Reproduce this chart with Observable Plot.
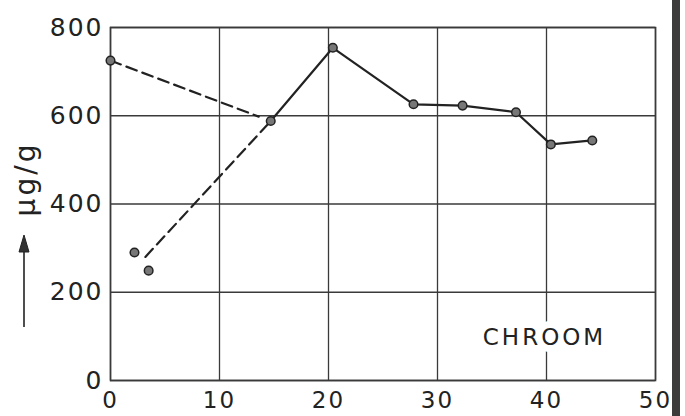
<!DOCTYPE html>
<html>
<head>
<meta charset="utf-8">
<script src="https://cdn.jsdelivr.net/npm/d3@7"></script>
<script src="https://cdn.jsdelivr.net/npm/@observablehq/plot@0.6"></script>
<style>
  html, body { margin: 0; padding: 0; background: #fff; }
  #chart { width: 685px; height: 416px; overflow: hidden; }
</style>
</head>
<body>
<div id="chart"></div>
<script>
// Solid series (connected measurements)
const solidX = [14.7, 20.4, 27.8, 32.3, 37.2, 40.4, 44.2];
const solidY = [588, 754, 626, 623, 608, 535, 544];

// Isolated points
const isoX = [0, 2.2, 3.5];
const isoY = [725, 290, 249];

// Dashed connector lines
const dashAX = [0, 13.6];
const dashAY = [725, 598];
const dashBX = [3.2, 14.7];
const dashBY = [280, 588];

const xTicks = [0, 10, 20, 30, 40, 50];
const yTicks = [0, 200, 400, 600, 800];
const yLabel = "μg/g";
const seriesLabel = "CHROOM";

const solid = solidX.map((x, i) => ({x, y: solidY[i]}));
const iso = isoX.map((x, i) => ({x, y: isoY[i]}));
const dashA = dashAX.map((x, i) => ({x, y: dashAY[i]}));
const dashB = dashBX.map((x, i) => ({x, y: dashBY[i]}));

const ink = "#222";
const gridInk = "#3a3a3a";

// decorative y-label arrow and scan border (not data)
function decorations(index, scales, values, dimensions) {
  const g = d3.create("svg:g");
  const ax = dimensions.marginLeft - 86;
  g.append("line")
    .attr("x1", ax).attr("x2", ax)
    .attr("y1", 327).attr("y2", 248)
    .attr("stroke", ink).attr("stroke-width", 1.6);
  g.append("path")
    .attr("d", `M${ax},235 L${ax - 5},252 L${ax + 5},252 Z`)
    .attr("fill", "#333").attr("stroke", ink).attr("stroke-width", 1);
  g.append("rect")
    .attr("x", 672).attr("y", 0).attr("width", 8).attr("height", dimensions.height)
    .attr("fill", "#3c3c3c");
  return g.node();
}

const chart = Plot.plot({
  width: 685,
  height: 416,
  marginLeft: 110,
  marginTop: 27,
  marginRight: 30,
  marginBottom: 36,
  style: {fontFamily: "DejaVu Sans, sans-serif", color: ink, background: "#fff", overflow: "visible"},
  x: {domain: [0, 50]},
  y: {domain: [0, 800]},
  marks: [
    Plot.gridX(xTicks, {stroke: gridInk, strokeOpacity: 1, strokeWidth: 1.3}),
    Plot.gridY(yTicks, {stroke: gridInk, strokeOpacity: 1, strokeWidth: 1.3}),
    Plot.frame({stroke: gridInk, strokeWidth: 1.6}),
    Plot.text([seriesLabel], {frameAnchor: "bottom-right", dx: -111, dy: -43, lineAnchor: "middle", textAnchor: "middle", fontSize: 23, fill: ink, stroke: "white", strokeWidth: 14}),
    Plot.axisX({ticks: xTicks, tickSize: 0, tickPadding: 11, fontSize: 23, label: null}),
    Plot.axisY({ticks: yTicks, tickSize: 0, tickPadding: 7, fontSize: 25, label: null}),
    Plot.line(dashA, {x: "x", y: "y", stroke: ink, strokeWidth: 2.2, strokeDasharray: "11,6"}),
    Plot.line(dashB, {x: "x", y: "y", stroke: ink, strokeWidth: 2.2, strokeDasharray: "11,6"}),
    Plot.line(solid, {x: "x", y: "y", stroke: ink, strokeWidth: 2.2}),
    Plot.dot(solid, {x: "x", y: "y", r: 4.3, fill: "#777", stroke: ink, strokeWidth: 1.5}),
    Plot.dot(iso, {x: "x", y: "y", r: 4.3, fill: "#777", stroke: ink, strokeWidth: 1.5}),
    Plot.text([yLabel], {frameAnchor: "left", dx: -84, dy: -25, rotate: -90, textAnchor: "middle", fontSize: 28, fill: ink}),
    decorations
  ]
});

// widen letter spacing to approximate the geometric lettering of the original
const svg = d3.select(chart);
svg.selectAll("text").each(function() {
  const t = d3.select(this);
  const s = t.text();
  if (s === yLabel) t.attr("letter-spacing", 3);
  else if (s === seriesLabel) t.attr("letter-spacing", 3);
  else if (/^\d+$/.test(s)) t.attr("letter-spacing", 2);
});
document.getElementById("chart").appendChild(chart);
</script>
</body>
</html>
